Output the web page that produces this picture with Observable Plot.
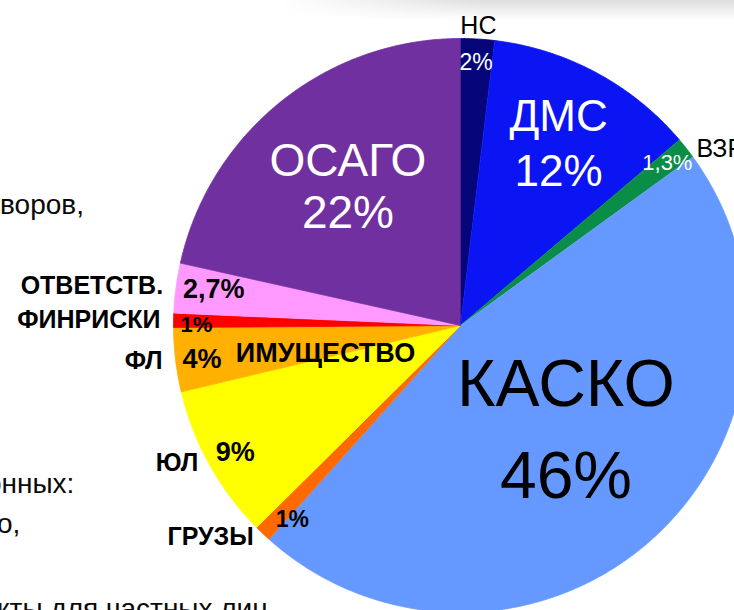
<!DOCTYPE html>
<html>
<head>
<meta charset="utf-8">
<script src="https://cdn.jsdelivr.net/npm/d3@7"></script>
<script src="https://cdn.jsdelivr.net/npm/@observablehq/plot@0.6"></script>
<style>
  body { margin: 0; background: #fff; }
  #wrap { position: relative; width: 734px; height: 610px; overflow: hidden; font-family: "Liberation Sans", Arial, sans-serif; }
  #wrap svg { position: absolute; left: 0; top: 0; }
  #shade { position: absolute; left: 280px; top: 0; width: 454px; height: 20px;
    background: linear-gradient(to bottom, rgba(0,0,0,0.13), rgba(0,0,0,0));
    -webkit-mask-image: linear-gradient(to right, transparent, #000 45%);
    mask-image: linear-gradient(to right, transparent, #000 45%); }
  .frag { position: absolute; font-size: 28px; line-height: 28px; color: #0a0a0a; white-space: nowrap; }
</style>
</head>
<body>
<div id="wrap"><div id="shade"></div></div>
<script>
// ---- data ----
const categories    = ["НС", "ДМС", "ВЗР", "КАСКО", "ГРУЗЫ", "ЮЛ", "ФЛ", "ФИНРИСКИ", "ОТВЕТСТВ.", "ОСАГО"];
const shares        = [1.9, 11.9, 1.2, 46.6, 0.95, 8.7, 3.6, 0.8, 2.8, 21.5]; // share of the circle as drawn
const percentLabels = ["2%", "12%", "1,3%", "46%", "1%", "9%", "4%", "1%", "2,7%", "22%"];
const outerNames    = ["НС", "", "ВЗР", "", "ГРУЗЫ", "ЮЛ", "ФЛ", "ФИНРИСКИ", "ОТВЕТСТВ.", ""];
const innerNames    = ["", "ДМС", "", "КАСКО", "", "", "ИМУЩЕСТВО", "", "", "ОСАГО"];
const palette       = ["#06067a", "#0b14f2", "#0a8d46", "#6699ff", "#ff6a00", "#ffff00", "#ffb000", "#ff0000", "#ff99ff", "#7030a0"];
const slideFragments = ["воров,", "онных:", "о,", "кты для частных лиц"];

// ---- layout / style ----
const W = 734, H = 610, CX = 460, CY = 325, R = 287;
const FONT = "Liberation Sans, Arial, sans-serif";
const bigLabel = {
  "ДМС":   {r: 207, size: 44, fill: "white", lh: 1.25, dx: 0, dy: -2},
  "КАСКО": {r: 150, size: 66, fill: "black", lh: 1.38, dx: 5, dy: -14},
  "ОСАГО": {r: 180, size: 46, fill: "white", lh: 1.15, dx: 0, dy: 0}
};
const lightPct = {"НС": 23, "ВЗР": 22};
const regularNames = new Set(["НС", "ВЗР"]);
const pctAdjust = {"ЮЛ": {dy: -9}, "ФИНРИСКИ": {dy: 5, size: 22}, "ГРУЗЫ": {size: 23, r: 268}};
const nameAdjust = {"ВЗР": {dy: 9}, "ЮЛ": {dy: -8}, "ГРУЗЫ": {dy: -6}};

const rows = categories.map((c, i) => ({cat: c, share: shares[i], pct: percentLabels[i], outer: outerNames[i], inner: innerNames[i]}));
const arcs = d3.pie().sort(null).value(d => d.share)(rows);
const mid = a => (a.startAngle + a.endAngle) / 2;
const px = (ang, r) => r * Math.sin(ang);
const py = (ang, r) => r * Math.cos(ang);

const poly = arcs.flatMap(a => {
  const n = Math.max(2, Math.ceil((a.endAngle - a.startAngle) / (Math.PI / 360)));
  const pts = [{cat: a.data.cat, x: 0, y: 0}];
  for (let k = 0; k <= n; k++) {
    const t = a.startAngle + (a.endAngle - a.startAngle) * k / n;
    pts.push({cat: a.data.cat, x: px(t, R), y: py(t, R)});
  }
  return pts;
});

const marks = [
  Plot.line(poly, {x: "x", y: "y", z: "cat", fill: "cat", stroke: "cat", strokeWidth: 0.8, curve: "linear"})
];

for (const a of arcs) {
  const d = a.data, m = mid(a), s = Math.sin(m);
  const big = bigLabel[d.cat];
  if (big) {
    marks.push(Plot.text([a], {
      x: () => px(m, big.r), y: () => py(m, big.r),
      text: () => d.inner + "\n" + d.pct,
      fill: big.fill, fontSize: big.size, lineHeight: big.lh, fontFamily: FONT,
      textAnchor: "middle", lineAnchor: "middle", dx: big.dx, dy: big.dy
    }));
    continue;
  }
  // percent label near the rim
  const left = s < -0.5;
  const pa = pctAdjust[d.cat] || {};
  const pr = pa.r || (left ? 280 : 263);
  const light = lightPct[d.cat];
  marks.push(Plot.text([a], {
    x: () => px(m, pr), y: () => py(m, pr), text: () => d.pct,
    fill: light ? "white" : "black", fontWeight: light ? "normal" : "bold",
    fontSize: light || pa.size || 27, fontFamily: FONT,
    textAnchor: left ? "start" : "middle", dy: pa.dy || 0
  }));
  // outer name
  if (d.outer) {
    const na = nameAdjust[d.cat] || {};
    const anchor = s < -0.5 ? "end" : s > 0.5 ? "start" : "middle";
    marks.push(Plot.text([a], {
      x: () => px(m, 300), y: () => py(m, 300), text: () => d.outer,
      fill: "black", fontWeight: regularNames.has(d.cat) ? "normal" : "bold",
      fontSize: 25, fontFamily: FONT,
      textAnchor: anchor, dy: na.dy || 0
    }));
  }
  // inner word (ИМУЩЕСТВО)
  if (d.inner) {
    marks.push(Plot.text([a], {
      x: () => px(m, 136), y: () => py(m, 136), text: () => d.inner,
      fill: "black", fontWeight: "bold", fontSize: 27, fontFamily: FONT,
      textAnchor: "middle", dy: 12
    }));
  }
}

const chart = Plot.plot({
  width: W, height: H,
  margin: 0,
  x: {domain: [-CX, W - CX], axis: null},
  y: {domain: [-(H - CY), CY], axis: null},
  color: {domain: categories, range: palette},
  style: {background: "transparent", overflow: "visible"},
  marks
});

const wrap = document.getElementById("wrap");
wrap.appendChild(chart);

// slide text fragments around the chart (cropped slide)
const fragPos = [[0, 191], [-14, 470], [-3, 510], [-3, 595]];
slideFragments.forEach((t, i) => {
  const el = document.createElement("div");
  el.className = "frag";
  el.textContent = t;
  el.style.left = fragPos[i][0] + "px";
  el.style.top = fragPos[i][1] + "px";
  wrap.appendChild(el);
});
</script>
</body>
</html>
